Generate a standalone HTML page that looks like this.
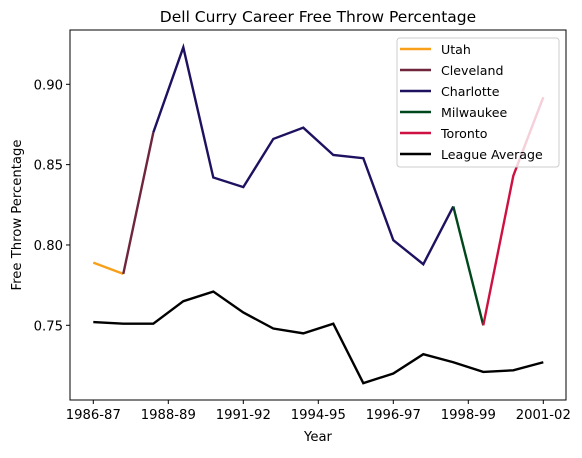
<!DOCTYPE html>
<html><head><meta charset="utf-8"><style>
body{margin:0;background:#fff;font-family:"Liberation Sans","DejaVu Sans",sans-serif;}
text{font-family:"DejaVu Sans","Liberation Sans",sans-serif;}
</style></head><body>
<svg id="chart" width="582" height="453" viewBox="0 0 582 453" xmlns="http://www.w3.org/2000/svg"></svg>
<script>
const utah=[[0,0.789],[1,0.782]];
const cleveland=[[1,0.782],[2,0.870]];
const charlotte=[[2,0.870],[3,0.923],[4,0.842],[5,0.836],[6,0.866],[7,0.873],[8,0.856],[9,0.854],[10,0.803],[11,0.788],[12,0.824]];
const milwaukee=[[12,0.824],[13,0.750]];
const toronto=[[13,0.750],[14,0.843],[15,0.892]];
const league=[0.752,0.751,0.751,0.765,0.771,0.758,0.748,0.745,0.751,0.714,0.720,0.732,0.727,0.721,0.722,0.727];
const xTickPos=[0,2.5,5,7.5,10,12.5,15];
const xTickLabels=["1986-87","1988-89","1991-92","1994-95","1996-97","1998-99","2001-02"];
const yTicks=[0.75,0.80,0.85,0.90];
const L=70,R=566,T=30,B=400;
const sx=i=>93.3+i*30;
const sy=v=>325.3-(v-0.75)*1606.7;
const svg=document.getElementById('chart');
const NS='http://www.w3.org/2000/svg';
function mk(tag,attrs,parent){const e=document.createElementNS(NS,tag);for(const k in attrs)e.setAttribute(k,attrs[k]);(parent||svg).appendChild(e);return e;}
function txt(s,attrs){const e=mk('text',attrs);e.textContent=s;return e;}
let t=txt('Dell Curry Career Free Throw Percentage',{x:318,y:22,'text-anchor':'middle','font-size':15.5});

function poly(pts,color,name){const p=mk('polyline',{points:pts.map(([i,v])=>sx(i)+','+sy(v)).join(' '),fill:'none',stroke:color,'stroke-width':2.4,'stroke-linejoin':'miter'});
}
poly(league.map((v,i)=>[i,v]),'#000','league-average-line');
poly(utah,'#f9a01b','utah-line');
poly(cleveland,'#6f263d','cleveland-line');
poly(charlotte,'#1d1160','charlotte-line');
poly(milwaukee,'#00471b','milwaukee-line');
poly(toronto,'#ce1141','toronto-line');
const ax=mk('rect',{x:L,y:T,width:R-L,height:B-T,fill:'none',stroke:'#000','stroke-width':1});

xTickPos.forEach((p,k)=>{const x=sx(p);mk('line',{x1:x,x2:x,y1:B,y2:B+4,stroke:'#000'});
const e=txt(xTickLabels[k],{x:x,y:B+19,'text-anchor':'middle','font-size':13.2});
});
yTicks.forEach(v=>{const y=sy(v);mk('line',{x1:L-4,x2:L,y1:y,y2:y,stroke:'#000'});
const e=txt(v.toFixed(2),{x:L-7,y:y+5,'text-anchor':'end','font-size':13.2});
});
t=txt('Year',{x:318,y:441,'text-anchor':'middle','font-size':13.2});

t=txt('Free Throw Percentage',{x:0,y:0,'text-anchor':'middle','font-size':13.2,transform:'translate(21,215) rotate(-90)'});

const lg=mk('g',{});
mk('rect',{x:397,y:38,width:162,height:129,rx:3,fill:'#fff','fill-opacity':0.8,stroke:'#ccc'},lg);
[['Utah','#f9a01b'],['Cleveland','#6f263d'],['Charlotte','#1d1160'],['Milwaukee','#00471b'],['Toronto','#ce1141'],['League Average','#000']].forEach(([n,c],k)=>{
const y=49+k*21;const g=mk('g',{},lg);
mk('line',{x1:400,x2:431,y1:y,y2:y,stroke:c,'stroke-width':2.4},g);
const e=mk('text',{x:441,y:y+5,'font-size':12.6},g);e.textContent=n;});
</script>
</body></html>
